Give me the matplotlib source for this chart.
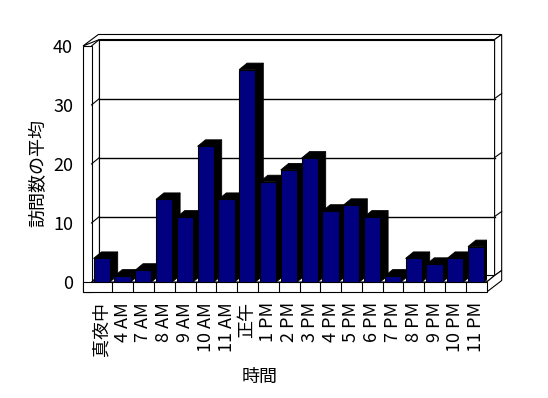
import numpy as np
import matplotlib
matplotlib.use("Agg")
import matplotlib.pyplot as plt
from matplotlib.patches import Polygon, Rectangle

plt.rcParams['font.family'] = ['Noto Sans CJK JP', 'DejaVu Sans']
plt.rcParams['font.size'] = 13

# data
hours = ["真夜中", "4 AM", "7 AM", "8 AM", "9 AM", "10 AM", "11 AM", "正午",
         "1 PM", "2 PM", "3 PM", "4 PM", "5 PM", "6 PM", "7 PM", "8 PM",
         "9 PM", "10 PM", "11 PM"]
visits = [4, 1, 2, 14, 11, 23, 14, 36, 17, 19, 21, 12, 13, 11, 1, 4, 3, 4, 6]
yticks = [0, 10, 20, 30, 40]

n = len(hours)
ymax = 40
dx, dy = 0.38, 1.1      # depth of bars / back wall (oblique)
tx, ty = 0.34, 0.85     # thickness of back wall
lw_side = 0.41          # thickness of left wall
fl = 1.7                # floor thickness

fig = plt.figure(figsize=(5.48, 3.98), dpi=100)
ax = fig.add_axes([91.5 / 548, 116 / 398, 395.2 / 548, 236 / 398])
ax.set_xlim(0, n)
ax.set_ylim(0, ymax)
for s in ax.spines.values():
    s.set_visible(False)

kw = dict(facecolor="white", edgecolor="black", linewidth=0.8, clip_on=False)

# back wall (front face, top, right end)
ax.add_patch(Rectangle((dx, dy), n, ymax, zorder=1, **kw))
ax.add_patch(Polygon([(dx, ymax + dy), (n + dx, ymax + dy), (n + dx + tx, ymax + dy + ty),
                      (dx - 0.05, ymax + dy + ty), (-lw_side, ymax)], zorder=1, **kw))
ax.add_patch(Polygon([(n + dx, dy), (n + dx + tx, dy + ty), (n + dx + tx, ymax + dy + ty),
                      (n + dx, ymax + dy)], zorder=1, **kw))
for v in yticks[1:-1]:
    ax.plot([dx, n + dx], [v + dy, v + dy], color="black", lw=1, zorder=1.5, clip_on=False)
    ax.plot([n + dx, n + dx + tx], [v + dy, v + dy + ty], color="black", lw=0.8,
            zorder=1.5, clip_on=False)

# left wall
ax.add_patch(Polygon([(0, 0), (dx, dy), (dx, ymax + dy), (0, ymax)], zorder=2, **kw))
ax.add_patch(Rectangle((-lw_side, -fl), lw_side, ymax + fl, zorder=2, **kw))
for v in yticks[1:-1]:
    ax.plot([0, dx], [v, v + dy], color="black", lw=0.8, zorder=2.5, clip_on=False)

# floor
ax.add_patch(Polygon([(0, 0), (n, 0), (n + dx, dy), (dx, dy)], zorder=2, **kw))
ax.add_patch(Polygon([(n, -fl), (n, 0), (n + dx, dy), (n + dx + tx, dy + ty),
                      (n + dx + tx, dy + ty - fl)], zorder=2, **kw))
ax.add_patch(Rectangle((-lw_side, -fl), n + lw_side, fl, zorder=2, **kw))
ax.vlines(np.arange(1, n), -fl, 0, color="black", lw=0.8, zorder=2.5, clip_on=False)

# bars
x = np.arange(n)
x0 = x + 0.1
bw = 0.78
bars = ax.bar(x0, visits, width=bw, align="edge", color="#000080",
              edgecolor="black", linewidth=0.8)
for i, (b, v) in enumerate(zip(bars, visits)):
    l, r = x0[i], x0[i] + bw
    z = 3 + i * 0.1
    ax.add_patch(Polygon([(r, 0), (r + dx, dy), (r + dx, v + dy), (r, v)],
                         facecolor="black", edgecolor="black", lw=0.6, zorder=z))
    ax.add_patch(Polygon([(l, v), (l + dx, v + dy), (r + dx, v + dy), (r, v)],
                         facecolor="black", edgecolor="black", lw=0.6, zorder=z))
    b.set_zorder(z + 0.05)

ax.set_xticks(x + 0.5, hours, rotation=90, va="top")
ax.set_yticks(yticks)
ax.tick_params(axis="x", length=0, pad=14.4)
ax.tick_params(axis="y", length=0, pad=13.3)

ax.set_ylabel("訪問数の平均")
ax.yaxis.set_label_coords(-0.111, 0.462)
ax.set_xlabel("時間")
ax.xaxis.set_label_coords(0.4254, -0.3644)

fig.savefig("out.png", dpi=100)
